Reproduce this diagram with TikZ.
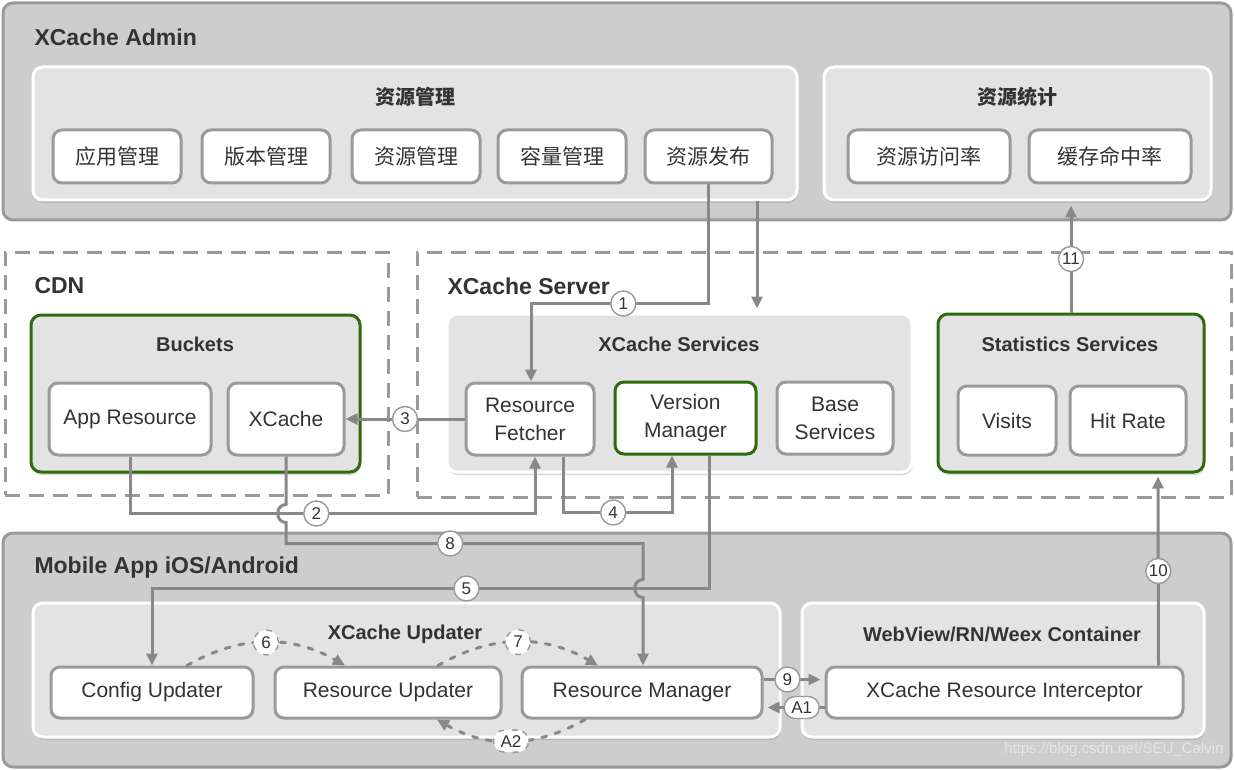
\documentclass[tikz,border=0pt]{standalone}
\usepackage{fontspec}
\setmainfont{Liberation Sans}
\newfontfamily\cjk{Noto Sans CJK SC}
\usepackage{xcolor}
\usepackage{tikz}
\usetikzlibrary{arrows.meta,positioning,calc,shadows}
\definecolor{linegray}{HTML}{888888}
\definecolor{boxgray}{HTML}{9A9A9A}
\definecolor{outerfill}{HTML}{CDCDCD}
\definecolor{groupfill}{HTML}{E3E3E3}
\definecolor{darkgreen}{HTML}{2E6B0E}
\definecolor{textgray}{HTML}{333333}
\tikzset{
  outer/.style={draw=boxgray, line width=3pt, rounded corners=10pt, fill=outerfill},
  region/.style={draw=boxgray, line width=3pt, dash pattern=on 15pt off 9pt},
  group/.style={draw=white, line width=3pt, rounded corners=10pt, fill=groupfill, drop shadow={shadow xshift=1pt, shadow yshift=-3pt, opacity=0.3}},
  greengroup/.style={group, draw=darkgreen},
  item/.style={draw=boxgray, line width=3pt, rounded corners=9pt, fill=white, align=center, font=\fontsize{21}{28}\selectfont, text=textgray},
  head/.style={font=\fontsize{23}{26}\selectfont\bfseries, text=textgray, anchor=west},
  subhead/.style={font=\fontsize{20}{23}\selectfont\bfseries, text=textgray},
  line/.style={draw=linegray, line width=3pt, -{Triangle[length=12pt,width=11pt]}},
  dline/.style={line, dash pattern=on 5pt off 9pt, line cap=round},
  num/.style={circle, draw=boxgray, line width=1.4pt, fill=white, inner sep=0pt, minimum size=25pt, font=\fontsize{17}{17}\selectfont, text=textgray},
  pill/.style={num, rectangle, rounded corners=11pt, minimum width=35pt, minimum height=22pt}
}

\begin{document}
\begin{tikzpicture}[x=1pt, y=-1pt]
  \fill[white] (0,0) rectangle (1234,770);
  \useasboundingbox (0,0) rectangle (1234,770);
  % admin
  \node[outer, minimum width=1228pt, minimum height=217pt] (admin) at (617,111.5) {};
  \node[head] (admintitle) at (31,37) {XCache Admin};
  \node[group, minimum width=764pt, minimum height=133pt] (mgmt) at (415,133.5) {};
  \node[subhead] (mgmttitle) at (415,97) {\cjk 资源管理};
  \node[item, minimum width=128pt, minimum height=53pt] (appmgr) at (117,156.5) {\cjk 应用管理};
  \node[item, minimum width=128pt, minimum height=53pt] (vermgr0) at (266,156.5) {\cjk 版本管理};
  \node[item, minimum width=128pt, minimum height=53pt] (resmgr0) at (416,156.5) {\cjk 资源管理};
  \node[item, minimum width=128pt, minimum height=53pt] (capmgr) at (562,156.5) {\cjk 容量管理};
  \node[item, minimum width=127pt, minimum height=53pt] (pub) at (708.5,156.5) {\cjk 资源发布};
  \node[group, minimum width=387pt, minimum height=133pt] (statgrp) at (1017.5,133.5) {};
  \node[subhead] (stattitle) at (1017,97) {\cjk 资源统计};
  \node[item, minimum width=162pt, minimum height=53pt] (visitrate) at (929,156.5) {\cjk 资源访问率};
  \node[item, minimum width=162pt, minimum height=53pt] (hitratio) at (1110,156.5) {\cjk 缓存命中率};

  % cdn and server
  \node[region, minimum width=383pt, minimum height=243pt] (cdn) at (196.5,373.5) {};
  \node[head] (cdntitle) at (31,286) {CDN};
  \node[region, minimum width=814pt, minimum height=245pt] (server) at (824,374.5) {};
  \node[head] (servertitle) at (444,286) {XCache Server};
  \node[greengroup, minimum width=329pt, minimum height=157pt] (buckets) at (195.5,393.5) {};
  \node[subhead] (bucketstitle) at (195,344) {Buckets};
  \node[item, minimum width=162pt, minimum height=72pt] (appres) at (130,419) {App Resource};
  \node[item, minimum width=116pt, minimum height=72pt] (xcb) at (286,419) {XCache};
  \node[group, minimum width=465pt, minimum height=158pt] (svc) at (679.5,393) {};
  \node[subhead] (svctitle) at (679,344) {XCache Services};
  \node[item, minimum width=128pt, minimum height=72pt] (fetcher) at (530,419) {Resource\\Fetcher};
  \node[item, draw=darkgreen, minimum width=141pt, minimum height=72pt] (vermgr) at (685.5,418) {Version\\Manager};
  \node[item, minimum width=116pt, minimum height=72pt] (base) at (835,418) {Base\\Services};
  \node[greengroup, minimum width=266pt, minimum height=158pt] (stats) at (1071,393) {};
  \node[subhead] (statstitle) at (1070,344) {Statistics Services};
  \node[item, minimum width=98pt, minimum height=69pt] (visits) at (1007,420.5) {Visits};
  \node[item, minimum width=116pt, minimum height=69pt] (hitrate) at (1128,420.5) {Hit Rate};

  % mobile app
  \node[outer, minimum width=1228pt, minimum height=234pt] (mobile) at (617,650) {};
  \node[head] (mobiletitle) at (31,568) {Mobile App iOS/Android};
  \node[group, minimum width=747pt, minimum height=134pt] (updgrp) at (406.5,670) {};
  \node[subhead] (updtitle) at (405,634) {XCache Updater};
  \node[item, minimum width=202pt, minimum height=51pt] (config) at (152,692.5) {Config Updater};
  \node[item, minimum width=226pt, minimum height=51pt] (resupd) at (388,692.5) {Resource Updater};
  \node[item, minimum width=240pt, minimum height=51pt] (resmgr) at (642,692.5) {Resource Manager};
  \node[group, minimum width=402pt, minimum height=134pt] (container) at (1003,670) {};
  \node[subhead] (containertitle) at (1002,634) {WebView/RN/Weex Container};
  \node[item, minimum width=357pt, minimum height=51pt] (interceptor) at (1004.5,692.5) {XCache Resource Interceptor};
  \node[anchor=east, font=\fontsize{15}{15}\selectfont, text=white!80!gray] (wm) at (1227,750) {https://blog.csdn.net/SEU\_Calvin};

  % connectors
  \coordinate (x757) at (757,0);
  \draw[line] (pub.south) |- node[num, pos=0.74] (n1) {1} ($(fetcher.north)+(1,-78)$) -- ($(fetcher.north)+(1,0)$);
  \draw[line] (mgmt.south -| x757) -- ($(svc.north -| x757)+(0,-4)$);
  \draw[line] (fetcher.west) -- node[num] (n3) {3} (xcb.east);
  \draw[line] (appres.south) |- node[num, pos=0.73] (n2) {2} ($(fetcher.south)+(5,57)$) -- ($(fetcher.south)+(5,0)$);
  \draw[line] ($(fetcher.south)+(33,0)$) |- node[num, pos=0.73] (n4) {4} ($(vermgr.south)+(-13.5,57)$) -- ($(vermgr.south)+(-13.5,0)$);
  \draw[line] ($(vermgr.south)+(24,0)$) |- node[num, pos=0.718] (n5) {5} ($(config.north)+(0,-77)$) -- (config.north);
  \draw[line] (xcb.south) -- ++(0,48)
    .. controls +(-11,0) and +(-11,0) .. ++(0,18)
    |- node[num, pos=0.73] (n8) {8} ($(resmgr.north)+(1,-122)$)
    -- ++(0,36) .. controls +(-11,0) and +(-11,0) .. ++(0,18)
    -- ($(resmgr.north)+(1,0)$);
  \draw[dline] ($(config.north)+(35,0)$) to[bend left=30] node[num] (n6) {6} ($(resupd.north)+(-43,0)$);
  \draw[dline] ($(resupd.north)+(50,0)$) to[bend left=30] node[num] (n7) {7} ($(resmgr.north)+(-44,0)$);
  \draw[dline] ($(resmgr.south)+(-57,0)$) to[bend left=30] node[pill] (na2) {A2} ($(resupd.south)+(49,0)$);
  \draw[line] ($(resmgr.east)+(0,-13)$) -- node[num, pos=0.42] (n9) {9} ($(interceptor.west)+(-4,-13)$);
  \draw[line] ($(interceptor.west)+(0,15)$) -- node[pill, pos=0.4] (na1) {A1} ($(resmgr.east)+(4,15)$);
  \draw[line] ($(interceptor.north)+(154,0)$) -- node[num] (n10) {10} ($(stats.south)+(87,3)$);
  \draw[line] (stats.north) -- node[num] (n11) {11} ($(stats.north |- statgrp.south)+(0,4)$);
\end{tikzpicture}
\end{document}
